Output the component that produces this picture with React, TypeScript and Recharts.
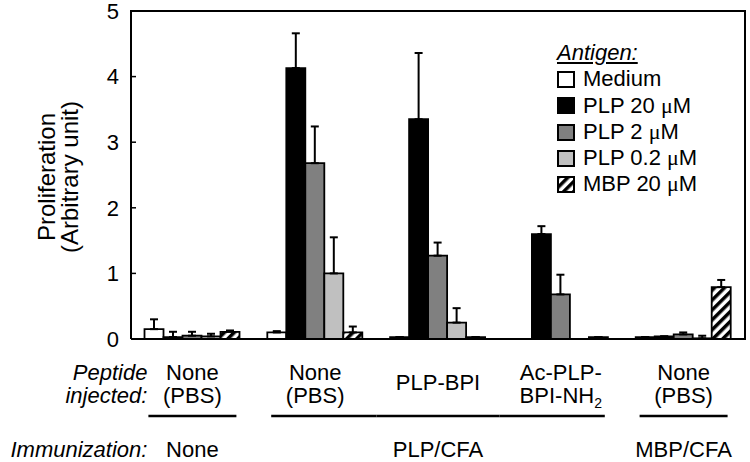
import React from 'react';
import { BarChart, Bar, XAxis, YAxis, ErrorBar, Legend } from 'recharts';

const FONT = "'Liberation Sans', Arial, Helvetica, sans-serif";

// one category per peptide group
const categories = ['none-pbs', 'plp-pbs', 'plp-bpi', 'plp-acbpi', 'mbp-pbs'];
const peptideLines = [['None', '(PBS)'], ['None', '(PBS)'], ['PLP-BPI'], ['Ac-PLP-', 'BPI-NH_2'], ['None', '(PBS)']];
const immunization = ['None', 'PLP/CFA', 'PLP/CFA', 'PLP/CFA', 'MBP/CFA'];

const medium = [0.15, 0.1, 0.03, 0.0, 0.03];
const mediumErr = [0.15, 0.02, 0, 0.1, 0];
const plp20 = [0.03, 4.13, 3.35, 1.6, 0.04];
const plp20Err = [0.08, 0.53, 1.01, 0.12, 0];
const plp2 = [0.05, 2.68, 1.27, 0.68, 0.07];
const plp2Err = [0.06, 0.56, 0.2, 0.3, 0.03];
const plp02 = [0.04, 1.0, 0.25, 0.0, 0.01];
const plp02Err = [0.04, 0.55, 0.22, 0.23, 0.04];
const mbp20 = [0.11, 0.1, 0.03, 0.03, 0.79];
const mbp20Err = [0.02, 0.09, 0, 0, 0.11];

const yTicks = [0, 1, 2, 3, 4, 5];

const series = [
  { key: 'medium', name: 'Medium', fill: '#ffffff', vals: medium, errs: mediumErr },
  { key: 'plp20', name: 'PLP 20 μM', fill: '#000000', vals: plp20, errs: plp20Err },
  { key: 'plp2', name: 'PLP 2 μM', fill: '#808080', vals: plp2, errs: plp2Err },
  { key: 'plp02', name: 'PLP 0.2 μM', fill: '#c0c0c0', vals: plp02, errs: plp02Err },
  { key: 'mbp20', name: 'MBP 20 μM', fill: 'url(#hatch)', vals: mbp20, errs: mbp20Err },
];

const data = categories.map((c, i) => {
  const row: any = { cat: c };
  series.forEach((s) => {
    row[s.key] = s.vals[i];
    row[s.key + 'Err'] = [0, s.errs[i]];
  });
  return row;
});

// plot box (matches chart margins + axis sizes below)
const PLOT_LEFT = 131;
const PLOT_RIGHT = 745;
const PLOT_TOP = 11;
const PLOT_BOTTOM = 339;
const BAND = (PLOT_RIGHT - PLOT_LEFT) / categories.length;

const withMu = (txt: string) => {
  const parts = txt.split('μ');
  if (parts.length < 2) return txt;
  return (
    <>
      {parts[0]}
      <span style={{ fontFamily: "'Liberation Serif', 'DejaVu Serif', serif" }}>μ</span>
      {parts[1]}
    </>
  );
};

const LabelLine = ({ x, y, text }) => {
  const [main, sub] = text.split('_');
  return (
    <text x={x} y={y} textAnchor="middle" fontSize={22} fontFamily={FONT} fill="#000">
      {main}
      {sub && <tspan fontSize={14} dy={5}>{sub}</tspan>}
    </text>
  );
};

const PeptideTick = (props) => {
  const { x, y, payload } = props;
  const i = categories.indexOf(payload.value);
  const lines = peptideLines[i];
  const imm = immunization[i];
  const prevSame = i > 0 && immunization[i - 1] === imm;
  const nextSame = i < categories.length - 1 && immunization[i + 1] === imm;
  const x1 = prevSame ? x - BAND / 2 : x - 44;
  const x2 = nextSame ? x + BAND / 2 : x + 44;
  const first = immunization.indexOf(imm);
  const last = immunization.lastIndexOf(imm);
  const showImm = i === Math.floor((first + last) / 2);

  return (
    <g>
      {i === 0 && (
        <g fontStyle="italic" fontSize={22} fontFamily={FONT} fill="#000" textAnchor="end">
          <text x={x - 45} y={y + 41}>Peptide</text>
          <text x={x - 45} y={y + 64}>injected:</text>
          <text x={x - 45} y={y + 118}>Immunization:</text>
        </g>
      )}
      {lines.length === 2 ? (
        <>
          <LabelLine x={x} y={y + 41} text={lines[0]} />
          <LabelLine x={x} y={y + 64} text={lines[1]} />
        </>
      ) : (
        <LabelLine x={x} y={y + 51} text={lines[0]} />
      )}
      <line x1={x1} x2={x2} y1={y + 77} y2={y + 77} stroke="#000" strokeWidth={2.5} />
      {showImm && <LabelLine x={x} y={y + 118} text={imm} />}
    </g>
  );
};

const YLabel = () => (
  <g fontSize={24} fontFamily={FONT} fill="#000" textAnchor="middle">
    <text transform="translate(55, 177) rotate(-90)">Proliferation</text>
    <text transform="translate(78, 177) rotate(-90)">(Arbitrary unit)</text>
  </g>
);

const AntigenLegend = () => (
  <div style={{ fontFamily: FONT, fontSize: 22, lineHeight: '26.3px', color: '#000' }}>
    <div style={{ fontStyle: 'italic', textDecoration: 'underline' }}>Antigen:</div>
    {series.map((s) => (
      <div key={s.key} style={{ display: 'flex', alignItems: 'center', height: 26.3 }}>
        <svg width={18} height={17} style={{ marginRight: 8 }}>
          <rect x={1} y={1} width={16} height={15} fill={s.fill} stroke="#000" strokeWidth={2} />
        </svg>
        <span>{withMu(s.name)}</span>
      </div>
    ))}
  </div>
);

export default function App() {
  return (
    <div style={{ position: 'absolute', left: 0, top: 0, width: 750, height: 462, background: '#fff' }}>
      <svg width={0} height={0} style={{ position: 'absolute' }}>
        <defs>
          <pattern id="hatch" patternUnits="userSpaceOnUse" width={7} height={7} patternTransform="rotate(45)">
            <rect x={0} y={0} width={7} height={7} fill="#fff" />
            <rect x={0} y={0} width={3.5} height={7} fill="#000" />
          </pattern>
        </defs>
      </svg>
      <BarChart
        width={750}
        height={462}
        data={data}
        margin={{ top: PLOT_TOP, right: 750 - PLOT_RIGHT, bottom: 0, left: 0 }}
        barGap={0}
        barCategoryGap="11%"
      >
        <XAxis
          dataKey="cat"
          axisLine={{ stroke: '#000', strokeWidth: 2 }}
          tickLine={false}
          tickSize={0}
          tickMargin={0}
          height={462 - PLOT_BOTTOM}
          interval={0}
          tick={<PeptideTick />}
        />
        <YAxis
          domain={[0, 5]}
          ticks={yTicks}
          interval={0}
          width={PLOT_LEFT}
          axisLine={{ stroke: '#000', strokeWidth: 2 }}
          tickLine={{ stroke: '#000', strokeWidth: 1.5 }}
          tickSize={-5}
          tickMargin={17}
          tick={{ fontSize: 22, fill: '#000', fontFamily: FONT }}
          label={{ content: <YLabel /> }}
        />
        <Legend
          layout="horizontal"
          verticalAlign="middle"
          align="center"
          wrapperStyle={{ left: 557, top: 40, width: 185 }}
          content={<AntigenLegend />}
        />
        {series.map((s) => (
          <Bar key={s.key} dataKey={s.key} name={s.name} fill={s.fill} stroke="#000" strokeWidth={1.8} isAnimationActive={false}>
            <ErrorBar dataKey={s.key + 'Err'} direction="y" width={4} stroke="#000" strokeWidth={2} />
          </Bar>
        ))}
      </BarChart>
      {/* top and right edges of the plot frame */}
      <div style={{ position: 'absolute', left: PLOT_LEFT - 1, top: PLOT_TOP - 1, width: PLOT_RIGHT - PLOT_LEFT + 2, height: 2, background: '#000' }} />
      <div style={{ position: 'absolute', left: PLOT_RIGHT - 1, top: PLOT_TOP - 1, width: 2, height: PLOT_BOTTOM - PLOT_TOP + 2, background: '#000' }} />
    </div>
  );
}
